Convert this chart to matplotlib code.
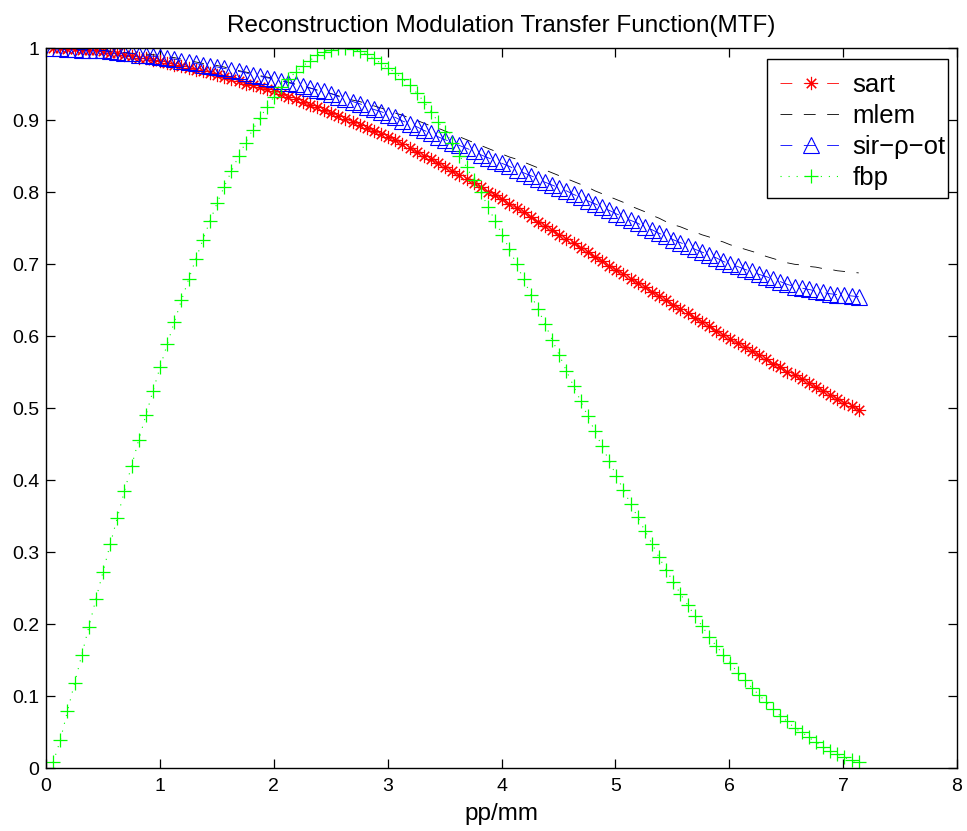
import numpy as np
import matplotlib
matplotlib.use("Agg")
import matplotlib.pyplot as plt
from matplotlib.patches import Rectangle

plt.rcParams["font.family"] = ["Liberation Sans", "DejaVu Sans"]
plt.rcParams["lines.scale_dashes"] = False

# spatial frequency samples (pp/mm)
freq_step = 0.0626
n_samples = 114

sart = [
    1.000, 1.000, 0.999, 0.999, 0.998, 0.998, 0.997, 0.996,
    0.994, 0.993, 0.991, 0.989, 0.987, 0.986, 0.984, 0.982,
    0.980, 0.977, 0.975, 0.972, 0.970, 0.968, 0.965, 0.963,
    0.960, 0.957, 0.954, 0.951, 0.949, 0.946, 0.943, 0.940,
    0.936, 0.933, 0.929, 0.925, 0.921, 0.918, 0.914, 0.910,
    0.906, 0.902, 0.898, 0.894, 0.889, 0.885, 0.881, 0.877,
    0.872, 0.867, 0.861, 0.856, 0.851, 0.846, 0.840, 0.835,
    0.829, 0.824, 0.818, 0.813, 0.807, 0.801, 0.796, 0.790,
    0.784, 0.778, 0.772, 0.766, 0.759, 0.753, 0.747, 0.741,
    0.735, 0.729, 0.723, 0.717, 0.710, 0.704, 0.698, 0.692,
    0.686, 0.680, 0.674, 0.668, 0.662, 0.656, 0.650, 0.644,
    0.638, 0.632, 0.626, 0.620, 0.614, 0.608, 0.602, 0.596,
    0.590, 0.585, 0.579, 0.574, 0.568, 0.562, 0.557, 0.551,
    0.546, 0.540, 0.535, 0.529, 0.524, 0.519, 0.513, 0.508,
    0.503, 0.498,
]

mlem = [
    1.000, 1.000, 0.999, 0.999, 0.998, 0.998, 0.997, 0.997,
    0.996, 0.995, 0.994, 0.993, 0.993, 0.992, 0.991, 0.990,
    0.988, 0.987, 0.985, 0.983, 0.981, 0.979, 0.978, 0.976,
    0.974, 0.971, 0.969, 0.967, 0.965, 0.962, 0.960, 0.958,
    0.955, 0.953, 0.950, 0.948, 0.945, 0.942, 0.940, 0.937,
    0.934, 0.931, 0.928, 0.926, 0.923, 0.920, 0.917, 0.914,
    0.910, 0.907, 0.903, 0.900, 0.896, 0.892, 0.889, 0.885,
    0.881, 0.877, 0.873, 0.869, 0.865, 0.861, 0.857, 0.853,
    0.849, 0.846, 0.842, 0.838, 0.834, 0.831, 0.827, 0.823,
    0.819, 0.815, 0.811, 0.807, 0.802, 0.798, 0.794, 0.790,
    0.786, 0.781, 0.777, 0.773, 0.768, 0.764, 0.759, 0.755,
    0.752, 0.748, 0.745, 0.741, 0.738, 0.734, 0.731, 0.727,
    0.724, 0.721, 0.718, 0.715, 0.711, 0.708, 0.705, 0.702,
    0.700, 0.699, 0.697, 0.696, 0.694, 0.693, 0.691, 0.690,
    0.689, 0.688,
]

sir_rho_ot = [
    1.000, 1.000, 0.999, 0.999, 0.998, 0.998, 0.997, 0.997,
    0.996, 0.995, 0.994, 0.993, 0.991, 0.990, 0.989, 0.988,
    0.986, 0.985, 0.983, 0.981, 0.979, 0.977, 0.976, 0.974,
    0.972, 0.970, 0.968, 0.966, 0.963, 0.961, 0.959, 0.957,
    0.955, 0.952, 0.950, 0.947, 0.945, 0.942, 0.940, 0.937,
    0.933, 0.930, 0.926, 0.923, 0.919, 0.915, 0.912, 0.908,
    0.904, 0.899, 0.895, 0.891, 0.886, 0.882, 0.877, 0.873,
    0.869, 0.865, 0.861, 0.857, 0.852, 0.848, 0.844, 0.840,
    0.836, 0.831, 0.827, 0.823, 0.819, 0.814, 0.810, 0.806,
    0.802, 0.797, 0.793, 0.788, 0.784, 0.779, 0.775, 0.770,
    0.766, 0.761, 0.757, 0.752, 0.748, 0.743, 0.739, 0.734,
    0.730, 0.726, 0.721, 0.717, 0.713, 0.709, 0.704, 0.700,
    0.697, 0.693, 0.690, 0.686, 0.683, 0.679, 0.676, 0.672,
    0.669, 0.667, 0.665, 0.663, 0.661, 0.659, 0.658, 0.657,
    0.656, 0.655,
]

fbp = [
    0.008, 0.039, 0.079, 0.118, 0.157, 0.196, 0.235, 0.273,
    0.311, 0.348, 0.385, 0.420, 0.456, 0.490, 0.524, 0.557,
    0.589, 0.620, 0.650, 0.679, 0.707, 0.734, 0.760, 0.785,
    0.808, 0.829, 0.850, 0.869, 0.887, 0.903, 0.919, 0.933,
    0.946, 0.957, 0.967, 0.975, 0.983, 0.990, 0.995, 0.998,
    1.000, 1.000, 0.999, 0.996, 0.992, 0.986, 0.979, 0.973,
    0.966, 0.958, 0.949, 0.938, 0.926, 0.912, 0.898, 0.884,
    0.868, 0.851, 0.835, 0.817, 0.800, 0.780, 0.760, 0.741,
    0.721, 0.700, 0.679, 0.658, 0.638, 0.617, 0.595, 0.574,
    0.552, 0.531, 0.510, 0.489, 0.468, 0.447, 0.427, 0.406,
    0.387, 0.367, 0.349, 0.330, 0.312, 0.293, 0.275, 0.259,
    0.242, 0.227, 0.212, 0.198, 0.183, 0.170, 0.158, 0.146,
    0.133, 0.123, 0.112, 0.102, 0.092, 0.082, 0.073, 0.065,
    0.056, 0.050, 0.043, 0.036, 0.030, 0.024, 0.020, 0.015,
    0.011, 0.009,
]

series_labels = ["sart", "mlem", "sir\u2212\u03c1\u2212ot", "fbp"]
x_ticks = [0, 1, 2, 3, 4, 5, 6, 7, 8]
y_ticks = [0, 0.1, 0.2, 0.3, 0.4, 0.5, 0.6, 0.7, 0.8, 0.9, 1]
y_tick_labels = ["0", "0.1", "0.2", "0.3", "0.4", "0.5", "0.6", "0.7", "0.8", "0.9", "1"]

freq = freq_step * np.arange(1, n_samples + 1)

fig = plt.figure(figsize=(9.67, 8.31), dpi=100)
ax = fig.add_axes([0.0476, 0.0755, 0.9421, 0.8664])

dash = (0, (8.5, 8.3))
dot = (0, (0.8, 5.0))

ax.plot(freq, sart, color=(1, 0, 0), linestyle=dash, linewidth=0.6,
        marker=(8, 2, 0), markersize=9.5, markeredgewidth=0.8,
        label=series_labels[0])
ax.plot(freq, mlem, color="black", linestyle=dash, linewidth=0.6,
        label=series_labels[1])
ax.plot(freq, sir_rho_ot, color=(0, 0, 1), linestyle=dash, linewidth=0.6,
        marker="^", markersize=11, markerfacecolor="none",
        markeredgewidth=0.8, label=series_labels[2])
ax.plot(freq, fbp, color=(0, 1, 0), linestyle=dot, linewidth=0.8,
        marker="+", markersize=10, markeredgewidth=0.9,
        label=series_labels[3])

ax.set_xlim(0, 8)
ax.set_ylim(0, 1)
ax.set_xticks(x_ticks)
ax.set_xticklabels([str(t) for t in x_ticks])
ax.set_yticks(y_ticks)
ax.set_yticklabels(y_tick_labels)

ax.tick_params(direction="in", length=6.5, width=0.9, labelsize=14,
               top=True, right=True, colors="black")
ax.tick_params(axis="x", pad=7)
ax.tick_params(axis="y", pad=5)
for spine in ax.spines.values():
    spine.set_linewidth(1.0)
    spine.set_color("black")

ax.set_title("Reconstruction Modulation Transfer Function(MTF)",
             fontsize=17.5, pad=12)
ax.set_xlabel("pp/mm", fontsize=17.5, labelpad=6)

# legend box drawn separately so the entries can sit close to its right edge
ax.add_patch(Rectangle((0.791, 0.7925), 0.199, 0.1922, transform=ax.transAxes,
                       facecolor="white", edgecolor="black", linewidth=1.0,
                       zorder=4))
leg = ax.legend(loc="upper left", bbox_to_anchor=(0.8055, 0.966),
                borderaxespad=0, borderpad=0, numpoints=1, fontsize=18.5,
                frameon=False, handlelength=2.4, handletextpad=0.43,
                labelspacing=0.28)
leg.set_zorder(5)

fig.savefig("out.png", dpi=100, facecolor="white")
